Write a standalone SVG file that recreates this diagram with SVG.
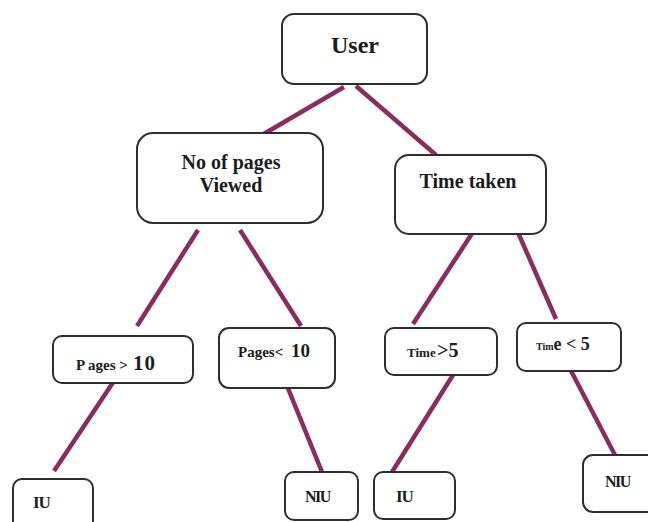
<svg xmlns="http://www.w3.org/2000/svg" width="648" height="522" viewBox="0 0 648 522">
  <style>
    .box { fill: #ffffff; stroke: #2e2e2e; stroke-width: 2; }
    .edge { stroke: #8a2c5f; stroke-width: 4.5; stroke-linecap: butt; fill: none; }
    text { font-family: "Liberation Serif", "Times New Roman", serif; font-weight: bold; fill: #1c1c1c; }
  </style>
  <rect width="648" height="522" fill="#ffffff"/>

  <!-- tree edges -->
  <g id="connectors">
    <line class="edge" x1="344" y1="87" x2="262" y2="135"/>
    <line class="edge" x1="356" y1="86" x2="436" y2="155"/>
    <line class="edge" x1="198" y1="230" x2="137" y2="326"/>
    <line class="edge" x1="240" y1="230" x2="301" y2="326"/>
    <line class="edge" x1="473" y1="232" x2="413" y2="324"/>
    <line class="edge" x1="516" y1="228" x2="556" y2="319"/>
    <line class="edge" x1="116" y1="378" x2="54" y2="471"/>
    <line class="edge" x1="283" y1="376" x2="322" y2="472"/>
    <line class="edge" x1="453" y1="375" x2="392" y2="472"/>
    <line class="edge" x1="569" y1="367" x2="616" y2="457"/>
  </g>

  <g id="user">
    <rect class="box" x="282" y="14" width="145" height="70" rx="12"/>
    <text x="355" y="53" font-size="24" text-anchor="middle">User</text>
  </g>

  <g id="pages-viewed">
    <rect class="box" x="137" y="133" width="186" height="90" rx="16"/>
    <text x="231" y="169" font-size="20" text-anchor="middle">No of pages</text>
    <text x="231" y="192" font-size="20" text-anchor="middle">Viewed</text>
  </g>

  <g id="time-taken">
    <rect class="box" x="395" y="155" width="151" height="79" rx="14"/>
    <text x="468" y="188" font-size="20" text-anchor="middle">Time taken</text>
  </g>

  <g id="pages-gt-10">
    <rect class="box" x="53" y="336" width="140" height="47" rx="9"/>
    <text y="370"><tspan x="76" font-size="15">P ages &gt;</tspan><tspan x="133" font-size="21" letter-spacing="1">10</tspan></text>
  </g>

  <g id="pages-lt-10">
    <rect class="box" x="219" y="328" width="116" height="60" rx="10"/>
    <text y="357"><tspan x="238" font-size="15">Pages&lt;</tspan><tspan x="291" font-size="19">10</tspan></text>
  </g>

  <g id="time-gt-5">
    <rect class="box" x="385" y="328" width="112" height="47" rx="9"/>
    <text y="357"><tspan x="407" font-size="13">Time</tspan><tspan x="437" font-size="20">&gt;5</tspan></text>
  </g>

  <g id="time-lt-5">
    <rect class="box" x="517" y="323" width="104" height="48" rx="9"/>
    <text y="350"><tspan x="536" font-size="10">Tim</tspan><tspan font-size="18">e &lt; 5</tspan></text>
  </g>

  <g id="iu-left">
    <rect class="box" x="13" y="479" width="80" height="60" rx="9"/>
    <text x="33" y="508" font-size="17" letter-spacing="-1">IU</text>
  </g>

  <g id="niu-pages">
    <rect class="box" x="285" y="472" width="73" height="48" rx="9"/>
    <text x="305" y="502" font-size="16" letter-spacing="-1.5">NIU</text>
  </g>

  <g id="iu-time">
    <rect class="box" x="374" y="472" width="81" height="47" rx="9"/>
    <text x="396" y="502" font-size="17" letter-spacing="-1">IU</text>
  </g>

  <g id="niu-time">
    <rect class="box" x="583" y="455" width="80" height="57" rx="10"/>
    <text x="605" y="487" font-size="16" letter-spacing="-1.5">NIU</text>
  </g>
</svg>
